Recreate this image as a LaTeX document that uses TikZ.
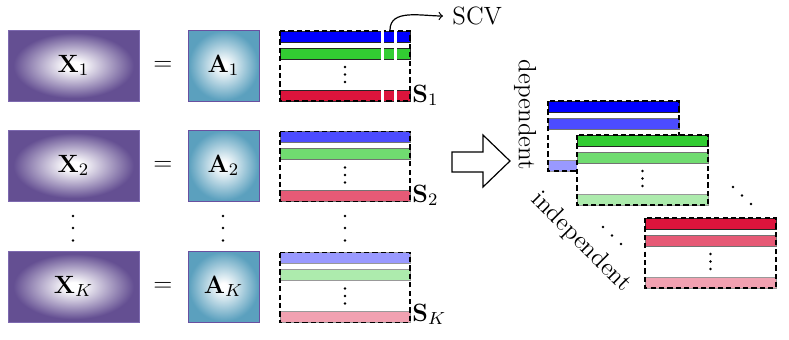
\RequirePackage{fix-cm}
\documentclass[tikz,border=0pt]{standalone}
\definecolor{xcol}{RGB}{100,79,146}
\definecolor{xborder}{RGB}{125,105,175}
\definecolor{acol}{RGB}{91,160,190}
\definecolor{aborder}{RGB}{105,80,160}
\definecolor{cblue}{RGB}{0,0,255}
\definecolor{cgreen}{RGB}{50,205,50}
\definecolor{cred}{RGB}{220,20,60}
\pgfdeclareradialshading{xshade}{\pgfpoint{0bp}{0bp}}{color(0bp)=(white); color(3bp)=(white); color(23bp)=(xcol); color(50bp)=(xcol)}
\pgfdeclareradialshading{ashade}{\pgfpoint{0bp}{0bp}}{color(0bp)=(white); color(2.5bp)=(white); color(24.5bp)=(acol); color(50bp)=(acol)}
\newcommand{\smatrix}[6]{%
  \fill[white] (#1,#2) rectangle ++(#3,70);
  \draw[barstyle,#4] (#1,#2) rectangle ++(#3,11);
  \draw[barstyle,#5] (#1,#2+17) rectangle ++(#3,11);
  \draw[barstyle,#6] (#1,#2+59) rectangle ++(#3,11);
  \draw[mdash] (#1,#2) rectangle ++(#3,70);
  \fill (#1+#3/2,#2+36) circle[radius=0.7pt] (#1+#3/2,#2+43.5) circle[radius=0.7pt] (#1+#3/2,#2+51) circle[radius=0.7pt];
}
\begin{document}
\begin{tikzpicture}[x=0.5pt,y=-0.5pt,
  every node/.style={font=\fontsize{12.5}{15}\selectfont},
  xbox/.style={draw=xborder, line width=0.5pt, shade, shading=xshade, minimum width=65.5pt, minimum height=35.5pt, inner sep=0pt},
  abox/.style={draw=aborder, line width=0.5pt, shade, shading=ashade, minimum width=35.5pt, minimum height=35.5pt, inner sep=0pt},
  barstyle/.style={line width=0.5pt},
  bA/.style={fill=#1, draw=black!85},
  bB/.style={fill=#1!70, draw=black!55},
  bC/.style={fill=#1!40, draw=black!40},
  mdash/.style={draw=black, line width=0.6pt, dash pattern=on 2.6pt off 1.6pt},
  slabel/.style={anchor=base west, inner sep=0pt},
  dotc/.style={radius=0.7pt}]
\useasboundingbox (0,0) rectangle (789,339);
% X and A boxes
\node[xbox] (x1) at (73.5,65.5) {$\mathbf{X}_1$};
\node[xbox] (x2) at (73.5,165.5) {$\mathbf{X}_2$};
\node[xbox] (xk) at (73.5,286.5) {$\mathbf{X}_K$};
\node (eq1) at (163,66) {$=$};
\node (eq2) at (163,166) {$=$};
\node (eqk) at (163,287) {$=$};
\node[abox] (a1) at (223.5,65.5) {$\mathbf{A}_1$};
\node[abox] (a2) at (223.5,165.5) {$\mathbf{A}_2$};
\node[abox] (ak) at (223.5,286.5) {$\mathbf{A}_K$};
% vertical dots
\foreach \xx in {73,223,345}{
  \fill (\xx,216) circle[dotc] (\xx,228) circle[dotc] (\xx,240.5) circle[dotc];
}
% S matrices
\smatrix{280}{31}{130}{bA=cblue}{bA=cgreen}{bA=cred}
\smatrix{280}{131.5}{130}{bB=cblue}{bB=cgreen}{bB=cred}
\smatrix{280}{252.5}{130}{bC=cblue}{bC=cgreen}{bC=cred}
\draw[white, line width=1.5pt] (382.5,29.5) -- (382.5,102.5) (395.5,29.5) -- (395.5,102.5);
\node[slabel] (s1) at (412,102) {$\mathbf{S}_1$};
\node[slabel] (s2) at (412,202) {$\mathbf{S}_2$};
\node[slabel] (sk) at (412,321) {$\mathbf{S}_K$};
% SCV
\coordinate (scvstart) at (390,30);
\node[anchor=west, inner sep=4.5pt] (scv) at (443,16) {SCV};
\draw[->, line width=0.6pt] (scvstart) to[out=90,in=180] (scv.west);
% hollow arrow
\draw[line width=0.6pt] (452,152) -- (483,152) -- (483,135) -- (510,161) -- (483,187) -- (483,172) -- (452,172) -- cycle;
% right stack
\smatrix{548}{101}{131}{bA=cblue}{bB=cblue}{bC=cblue}
\smatrix{577}{135}{131}{bA=cgreen}{bB=cgreen}{bC=cgreen}
\smatrix{645}{218}{131}{bA=cred}{bB=cred}{bC=cred}
\fill (733,187) circle[dotc] (742,195.5) circle[dotc] (751,204) circle[dotc];
\fill (603,227) circle[dotc] (612,235.5) circle[dotc] (621,244) circle[dotc];
\node[rotate=-90] (dep) at (525,115) {dependent};
\node[rotate=-45] (indep) at (581,242) {independent};
\end{tikzpicture}
\end{document}
